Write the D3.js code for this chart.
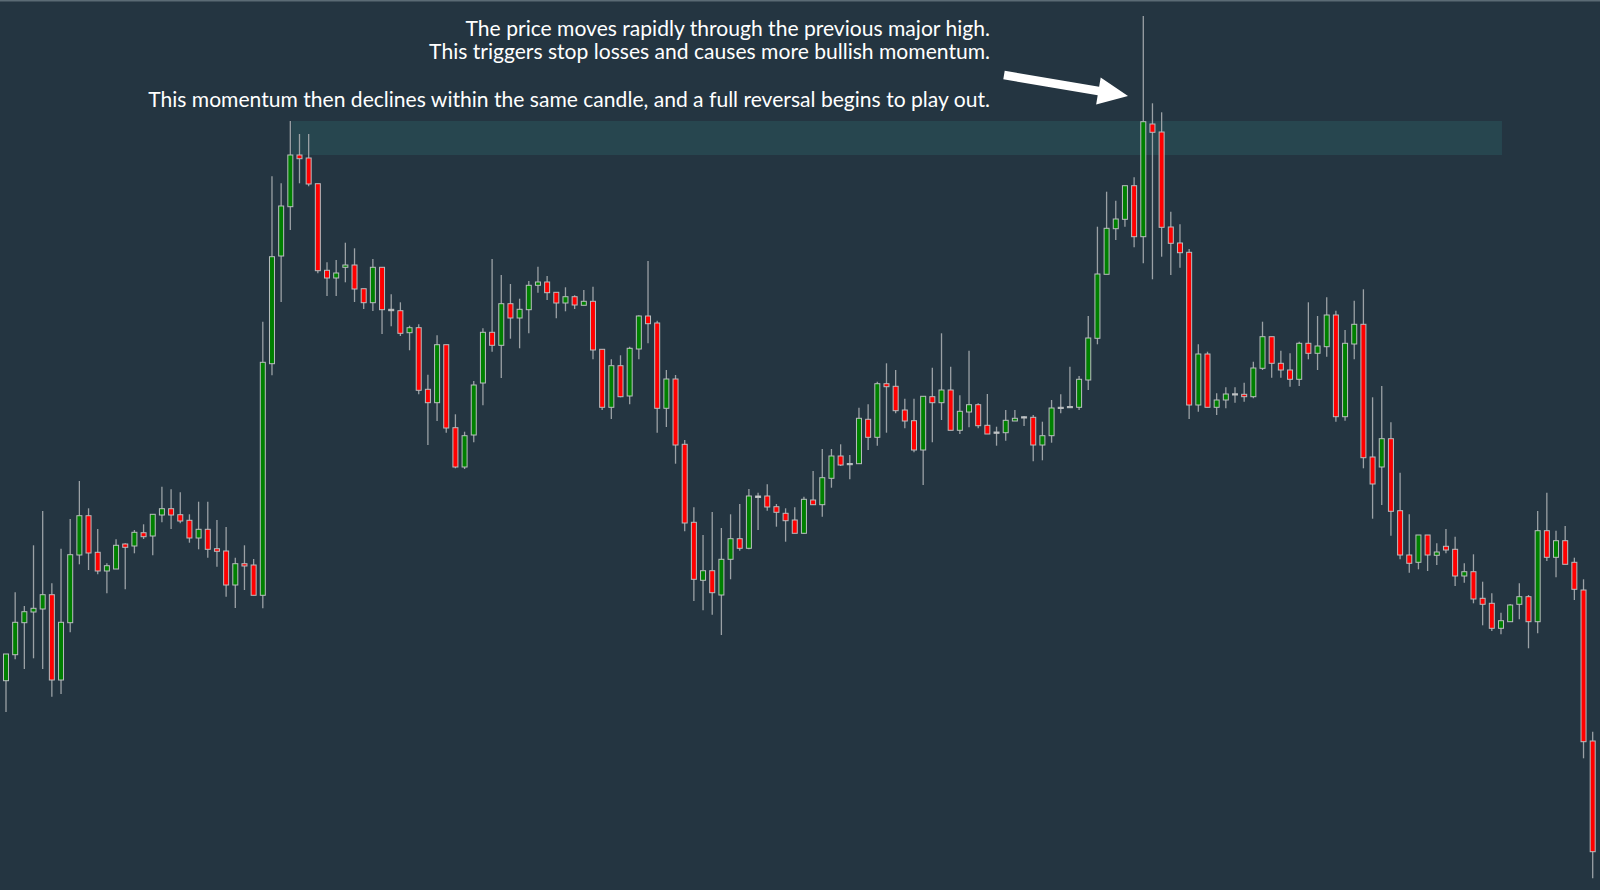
<!DOCTYPE html>
<html><head><meta charset="utf-8">
<script src="https://cdn.jsdelivr.net/npm/d3@7"></script>
<style>html,body{margin:0;padding:0;background:#243541;overflow:hidden}</style>
</head><body>
<svg id="chart" width="1600" height="890"></svg>
<script>
// ---- data (price units) ----
const opens = [219.3,245.3,277.3,288,291,305.3,220,277.3,345,384.3,347.7,329,331,356,354,367.3,364,385,391.3,385.3,379.7,362,370.7,351.3,349,315,336.3,335,304.7,536.3,
644,693.3,745,742,716.3,629.7,622,632.7,635,611.3,597.3,632.7,590.7,589.3,567.3,572.3,510.7,497.3,555.3,472.3,433,465,517,567.7,554.7,596.3,582,590.3,614.7,618,
607.7,597,603.3,594.7,598.7,550.7,492.7,534.3,504,551,584,577,491.7,521,455.7,377.7,319.7,329.3,305,340.7,361.3,351.7,404,404,393.3,386.7,380,366.7,400,395.3,
421.7,444,436.5,436.3,480.7,462.7,516.3,513.7,490,479.3,450,503.3,497.3,510,469.7,488,495.3,474.7,468,467.3,479,482.2,482.7,455,464.3,491.7,492.5,492.7,520,561.7,
625.7,671.3,680.7,714.3,663.3,776,768,673,657,647.7,495,546,492.7,500,505.2,505.7,503.3,531.7,563.3,536.7,530,520.7,556.7,546.7,553.3,585,483.3,556,575.7,443,
433,461.3,389.3,345,337.7,365,344.7,353.7,350.7,324,328.3,301.7,296.7,271.7,278.3,295.7,303.3,278.3,369.3,342.7,359.3,337.7,310,159];
const highs = [246,307.7,294,354.7,389,316.7,351.3,381,419,391.7,371,336.7,360.7,356.7,370,375.7,385.7,413.3,410.7,407.7,385.7,398.3,398.3,380,373,342.3,354.7,341,578.3,723.7,
716.7,779,766,766,716.3,637.7,640,657.3,651.7,611.3,641,632.7,605.7,597.7,574.3,575.7,525.3,564.7,555.3,485.7,468.3,519,571.7,641,625,616,601.3,619,633.3,624,
607.7,612.7,604.7,610,613.3,550.7,540.7,544.7,553.3,584.7,639,579.3,530,525,460,392.7,365,388,372,385.7,396,411,407.3,415.7,396,391.7,392.7,403.3,429,451,
451,455.7,445,492.3,495.7,518.3,536.7,530,501.3,501.3,503.7,532.3,566.7,533.3,504.7,549.3,496.7,506,473.3,490,490,484,485,478.3,500,505.7,533.3,524,584,673.3,
708.3,699.3,714.3,722.7,884,796.7,787.7,688.3,675.7,651,555.7,548.3,506.7,512.7,512.7,517.3,538.3,578.3,563.3,549.3,546.7,558.3,597.7,584,602.7,589.3,570,599.3,610.7,502.7,
514,477.7,427.3,385.7,365,365,356.7,371,363.3,336.7,345.7,318.3,306.7,287.3,296,316.7,305,389,407.3,369.3,374,342.3,320.7,168.3];
const lows = [188,240.7,231,241.7,231,203.3,206,267.7,335.7,330,325.7,306.7,331,310.7,346.7,361,344.7,377.7,371,376.7,357.3,350.7,342.3,333.3,303.3,292,310,304.7,291.7,524.7,
598,670,716.7,713.7,626.7,604,604,617.7,598,591,589,566,573.7,564,549.7,505.7,455,479,467.3,431.7,431,457.7,494.7,548.3,522,561.3,551.7,566.7,607.3,600,
581.7,588.7,591,594.7,540.7,490,481,502.7,495.7,540.7,556.7,467.3,473,436.3,368.7,299,289.7,285.3,265,320.7,349.3,350.7,370,389.3,373.3,358.3,366.7,366,395.3,383.3,
412.3,434,420.7,436.3,450,454.3,467.3,486.7,471.7,447.7,415,457.7,480,469.7,466,472.7,471.7,466,454.3,459.3,479,474,438.7,439.7,457.3,486.7,492.5,490,510,555.7,
625.7,660,673.3,652.7,636.7,620.7,643.3,625,632.3,481,488.3,492.7,485,491.7,497.3,498.3,501.7,530,522.3,522.3,513.3,514,540.7,530,543.3,478.3,479.3,540.7,431.7,381.3,
395,364.3,340.7,327.3,330.7,329,335,346.7,314,317.3,296.7,274.7,269,265.7,278.3,280.7,251.7,266.7,339,322.7,335.7,300,141.7,21.7];
const closes = [246,277.7,288.3,291.7,305.3,220,277.7,345.3,384.3,347,329,334.3,354.7,352.7,367.7,363.3,385.7,391.3,385,379,362,370.7,350.7,348.7,315,336.3,334,304.7,537.7,643.3,
694,745,741.3,716,629.3,622,627,635,611,597.3,632.7,590.3,589.3,566.7,572.3,509.7,497.3,555.3,472,433,464.3,515,567.7,554.7,596.3,582,590.7,614.7,618,607.3,
597,603.3,595,598.7,550,492.7,534.3,503.3,551.7,584,576.3,491.7,521,455,377,320.7,329.3,307.3,340.7,361.3,351.7,404,402.5,393,387.7,379.3,366.7,400.7,395.3,422.3,
444,435,435.5,481.7,462.7,516.3,513.3,489.3,479,450,503.7,497.3,510,469.7,488.7,495.3,474.3,466,466.7,479.7,481.7,483.2,455,464.3,492,492.7,493.5,520.7,562,626,
671.7,681,714.3,663.3,778.3,767.7,672.7,656.7,647.3,495,546,492.7,500,506,506.2,503.3,532,563.3,536.7,530,520.7,556.7,546.7,554,585,483.3,556.7,575.7,442.3,416,
461.3,388.7,345,336.7,365,345,348,350,324,328.3,301,295.7,271.7,279.3,295,303.3,278.3,369.3,342.7,359.3,335.7,310.7,158.3,48.3];
const noteLines = [
  "The price moves rapidly through the previous major high.",
  "This triggers stop losses and causes more bullish momentum.",
  "This momentum then declines within the same candle, and a full reversal begins to play out."
];
const zoneStart = 31, zoneEnd = 163;   // candle indices spanning the highlighted zone

// ---- build ----
const W = 1600, H = 890;
const candles = opens.map((o, i) => ({i, o, h: highs[i], l: lows[i], c: closes[i]}));
const svg = d3.select("#chart");
svg.append("rect").attr("width", W).attr("height", H).attr("fill", "#243541");
svg.append("line").attr("x1", 0).attr("x2", W).attr("y1", 0.75).attr("y2", 0.75)
  .attr("stroke", "#5b6b75").attr("stroke-width", 1.5);

const x = d3.scaleLinear().domain([0, candles.length - 1]).range([6, 1592.7]);
const y = d3.scaleLinear().domain([0, 900]).range([900, 0]);

// highlighted zone (previous major high)
const zc = candles[zoneStart];
svg.append("rect")
  .attr("x", x(zoneStart) + 1).attr("width", x(zoneEnd) - x(zoneStart))
  .attr("y", y(zc.h)).attr("height", y(zc.c) - y(zc.h))
  .attr("fill", "#27464f");

const g = svg.append("g");
g.selectAll("line.wick").data(candles).join("line").attr("class", "wick")
  .attr("x1", d => x(d.i)).attr("x2", d => x(d.i))
  .attr("y1", d => y(d.h)).attr("y2", d => y(d.l))
  .attr("stroke", "#9ba1a5").attr("stroke-width", 1.3);

const bw = 5;
g.selectAll("rect.body").data(candles).join("rect").attr("class", "body")
  .attr("x", d => x(d.i) - bw / 2).attr("width", bw)
  .attr("y", d => y(Math.max(d.o, d.c)))
  .attr("height", d => Math.max(1.2, Math.abs(y(d.o) - y(d.c))))
  .attr("fill", d => Math.abs(d.c - d.o) < 1.6 ? "#d8d8d8" : (d.c > d.o ? "#008000" : "#ff0000"))
  .attr("stroke", "#b9bdbf").attr("stroke-width", 1);

// annotation text
const fam = "Lato, 'Open Sans', sans-serif";
const tx = 990;
const baselines = [35.5, 59, 106.5];
const texts = svg.selectAll("text.note").data(noteLines).join("text").attr("class", "note")
  .attr("x", tx).attr("y", (d, i) => baselines[i])
  .attr("text-anchor", "end").attr("fill", "#ffffff")
  .attr("font-family", fam).attr("font-size", 19)
  .text(d => d);
const measured = texts.nodes()[2].getComputedTextLength();
const fs = 19 * 842 / measured;
texts.attr("font-size", fs);

// arrow
const tail = [1004, 75], tip = [1128, 96];
const dx = tip[0] - tail[0], dy = tip[1] - tail[1], len = Math.hypot(dx, dy);
const ux = dx / len, uy = dy / len, nx = -uy, ny = ux;
const headLen = 30, sw = 4.3, hw = 13.6;
const bx = tip[0] - ux * headLen, by = tip[1] - uy * headLen;
const pts = [
  [tail[0] + nx * sw, tail[1] + ny * sw],
  [bx + nx * sw, by + ny * sw],
  [bx + nx * hw, by + ny * hw],
  tip,
  [bx - nx * hw, by - ny * hw],
  [bx - nx * sw, by - ny * sw],
  [tail[0] - nx * sw, tail[1] - ny * sw]
];
svg.append("polygon").attr("points", pts.map(p => p.join(",")).join(" ")).attr("fill", "#ffffff");
</script>
</body></html>
